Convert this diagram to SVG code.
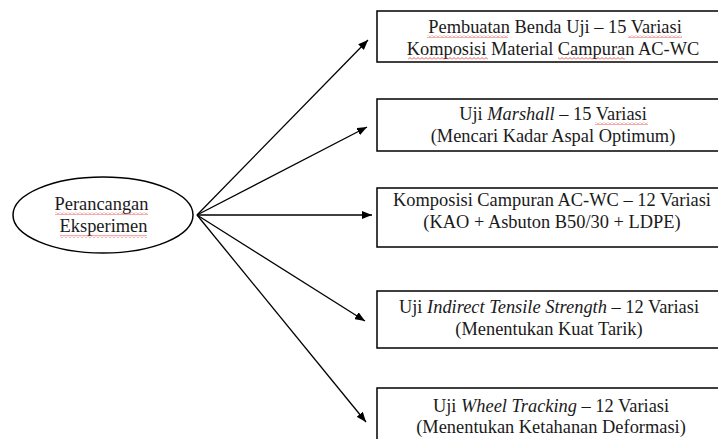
<svg xmlns="http://www.w3.org/2000/svg" width="718" height="439" viewBox="0 0 718 439">
<defs>
<style>
.box{fill:#fff;stroke:#000;stroke-width:1.5}
.t{font-family:'Liberation Serif','Times New Roman',serif;font-size:18.4px;fill:#1a1a1a;text-anchor:middle}
.i{font-style:italic}
.c{stroke:#000;stroke-width:1.3;fill:none}
.sq{fill:url(#wave)}
</style>
<marker id="ah" viewBox="0 0 10 8" refX="10" refY="4" markerWidth="10" markerHeight="8" markerUnits="userSpaceOnUse" orient="auto">
<path d="M0,0 L10,4 L0,8 Z" fill="#000"/>
</marker>
<pattern id="wave" width="4" height="3" patternUnits="userSpaceOnUse">
<path d="M0,2.5 L2,0.5 L4,2.5" stroke="#e03030" stroke-width="0.8" fill="none"/>
</pattern>
</defs>
<rect width="718" height="439" fill="#fff"/>
<g id="connectors">
<line class="c" x1="197" y1="215" x2="368" y2="40" marker-end="url(#ah)"/>
<line class="c" x1="197" y1="215" x2="367" y2="127" marker-end="url(#ah)"/>
<line class="c" x1="197" y1="215" x2="372" y2="215" marker-end="url(#ah)"/>
<line class="c" x1="197" y1="215" x2="365" y2="321" marker-end="url(#ah)"/>
<line class="c" x1="197" y1="215" x2="366" y2="422" marker-end="url(#ah)"/>
</g>
<g id="start">
<ellipse class="box" cx="103" cy="215" rx="90" ry="38"/>
<text class="t" x="101.5" y="210">Perancangan</text>
<text class="t" x="103.5" y="232">Eksperimen</text>
<rect class="sq" x="55" y="212" width="93" height="3"/>
<rect class="sq" x="60" y="235" width="87" height="3"/>
</g>
<g id="n1">
<rect class="box" x="377" y="11" width="350" height="51"/>
<text class="t" x="555" y="33">Pembuatan Benda Uji – 15 Variasi</text>
<text class="t" x="553" y="55">Komposisi Material Campuran AC-WC</text>
<rect class="sq" x="427" y="35" width="81" height="3"/>
<rect class="sq" x="628" y="35" width="54" height="3"/>
<rect class="sq" x="408" y="57" width="80" height="3"/>
<rect class="sq" x="558" y="57" width="67" height="3"/>
</g>
<g id="n2">
<rect class="box" x="377" y="99" width="350" height="52"/>
<text class="t" x="553" y="120">Uji <tspan class="i">Marshall</tspan> – 15 Variasi</text>
<text class="t" x="553" y="142">(Mencari Kadar Aspal Optimum)</text>
<rect class="sq" x="595" y="122" width="53" height="3"/>
</g>
<g id="n3">
<rect class="box" x="377" y="188" width="350" height="59"/>
<text class="t" x="552" y="206">Komposisi Campuran AC-WC – 12 Variasi</text>
<text class="t" x="552" y="228">(KAO + Asbuton B50/30 + LDPE)</text>
</g>
<g id="n4">
<rect class="box" x="377" y="291" width="350" height="57"/>
<text class="t" x="549" y="313">Uji <tspan class="i">Indirect Tensile Strength</tspan> – 12 Variasi</text>
<text class="t" x="549" y="335">(Menentukan Kuat Tarik)</text>
</g>
<g id="n5">
<rect class="box" x="377" y="388" width="350" height="60"/>
<text class="t" x="551" y="412">Uji <tspan class="i">Wheel Tracking</tspan> – 12 Variasi</text>
<text class="t" x="551" y="433">(Menentukan Ketahanan Deformasi)</text>
</g>
</svg>
